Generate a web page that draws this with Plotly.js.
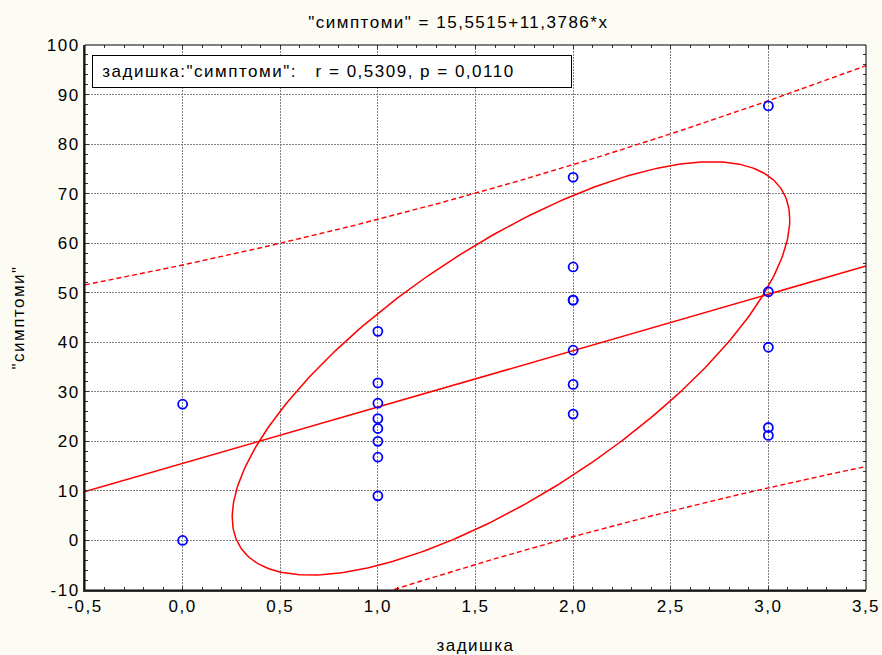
<!DOCTYPE html>
<html>
<head>
<meta charset="utf-8">
<script src="https://cdn.plot.ly/plotly-3.0.1.min.js"></script>
<style>
  html, body { margin: 0; padding: 0; background: #fcfcf5; }
  #chart { width: 882px; height: 655px; }
  svg text { letter-spacing: 1.5px; }
</style>
</head>
<body>
<div id="chart"></div>
<script>
// ---- data ----
const dyspnea = [0, 0,
  1, 1, 1, 1, 1, 1, 1, 1,
  2, 2, 2, 2, 2, 2, 2,
  3, 3, 3, 3, 3];
const symptoms = [27.5, 0,
  42.2, 31.8, 27.7, 24.6, 22.6, 20.0, 16.8, 9.0,
  73.3, 55.2, 48.5, 48.5, 38.4, 31.5, 25.5,
  87.7, 50.2, 39.0, 22.8, 21.2];

const intercept = 15.5515;
const slope = 11.3786;
const titleText = '"симптоми" = 15,5515+11,3786*x';
const statText = '\u00a0задишка:"симптоми":\u00a0\u00a0\u00a0r = 0,5309, p = 0,0110';
const xTitle = 'задишка';
const yTitle = '"симптоми"';

const xTickVals = [-0.5, 0, 0.5, 1, 1.5, 2, 2.5, 3, 3.5];
const xTickText = ['-0,5', '0,0', '0,5', '1,0', '1,5', '2,0', '2,5', '3,0', '3,5'];
const yTickVals = [-10, 0, 10, 20, 30, 40, 50, 60, 70, 80, 90, 100];
const yTickText = ['-10', '0', '10', '20', '30', '40', '50', '60', '70', '80', '90', '100'];

// statistical constants
const T_CRIT = 2.086;      // t(0.975, df = 20)
const ELL_KX = 1.51;       // ellipse extent (in SDs) along x
const ELL_KY = 2.06;       // ellipse extent (in SDs) along y
const ELL_R = 0.72;        // ellipse shape correlation

// ---- derived statistics ----
const n = dyspnea.length;
const mean = a => a.reduce((s, v) => s + v, 0) / a.length;
const mx = mean(dyspnea), my = mean(symptoms);
let sxx = 0, syy = 0;
for (let i = 0; i < n; i++) {
  sxx += (dyspnea[i] - mx) ** 2;
  syy += (symptoms[i] - my) ** 2;
}
const sdx = Math.sqrt(sxx / (n - 1)), sdy = Math.sqrt(syy / (n - 1));
let ssres = 0;
for (let i = 0; i < n; i++) {
  const r = symptoms[i] - (intercept + slope * dyspnea[i]);
  ssres += r * r;
}
const sres = Math.sqrt(ssres / (n - 2));

const xLo = xTickVals[0], xHi = xTickVals[xTickVals.length - 1];
const gx = [], fitY = [], upY = [], loY = [];
for (let k = 0; k <= 200; k++) {
  const x = xLo + (xHi - xLo) * k / 200;
  const yh = intercept + slope * x;
  const hw = T_CRIT * sres * Math.sqrt(1 + 1 / n + (x - mx) ** 2 / sxx);
  gx.push(x); fitY.push(yh); upY.push(yh + hw); loY.push(yh - hw);
}
const ex = [], ey = [];
const rc = Math.sqrt(1 - ELL_R * ELL_R);
for (let k = 0; k <= 360; k++) {
  const t = 2 * Math.PI * k / 360;
  ex.push(mx + ELL_KX * sdx * Math.cos(t));
  ey.push(my + ELL_KY * sdy * (ELL_R * Math.cos(t) + rc * Math.sin(t)));
}

const FONT = 'Liberation Sans, Arial, sans-serif';
const FS = 17;
const red = '#ff0000';

const traces = [
  { x: ex, y: ey, mode: 'lines', line: { color: red, width: 1.5 }, hoverinfo: 'skip' },
  { x: gx, y: fitY, mode: 'lines', line: { color: red, width: 1.5 }, hoverinfo: 'skip' },
  { x: gx, y: upY, mode: 'lines', line: { color: red, width: 1.4, dash: '5px,3px' }, hoverinfo: 'skip' },
  { x: gx, y: loY, mode: 'lines', line: { color: red, width: 1.4, dash: '5px,3px' }, hoverinfo: 'skip' },
  { x: dyspnea, y: symptoms, mode: 'markers',
    marker: { symbol: 'circle-open', size: 9, color: '#0000ff', line: { width: 1.8, color: '#0000ff' } } },
  { x: dyspnea, y: symptoms, xaxis: 'x2', yaxis: 'y2', mode: 'markers',
    marker: { opacity: 0 }, hoverinfo: 'skip' }
];

const minorX = { ticks: 'inside', ticklen: 3, dtick: 0.1, tick0: -0.5, tickcolor: '#333', showgrid: false };
const minorY = { ticks: 'inside', ticklen: 3, dtick: 2, tick0: 0, tickcolor: '#333', showgrid: false };

const layout = {
  width: 882, height: 655,
  paper_bgcolor: '#fcfcf5', plot_bgcolor: '#ffffff',
  margin: { l: 85, r: 16, t: 45, b: 65 },
  showlegend: false,
  font: { family: FONT, size: FS, color: '#000' },
  title: { text: titleText, font: { family: FONT, size: FS, color: '#000' },
           xref: 'paper', x: 0.478, xanchor: 'center', yref: 'container', y: 1 - 22 / 655, yanchor: 'middle' },
  xaxis: {
    range: [xLo, xHi], tickvals: xTickVals, ticktext: xTickText,
    showgrid: true, gridcolor: '#808080', griddash: '2px,1px', gridwidth: 1, zeroline: false,
    ticks: 'inside', ticklen: 4, tickcolor: '#333',
    showline: true, linewidth: 2, linecolor: '#333',
    minor: minorX,
    tickfont: { family: FONT, size: FS, color: '#000' },
    title: { text: xTitle, font: { family: FONT, size: FS, color: '#000' }, standoff: 27 },
    automargin: false
  },
  yaxis: {
    range: [-10, 100], tickvals: yTickVals, ticktext: yTickText,
    showgrid: true, gridcolor: '#808080', griddash: '2px,1px', gridwidth: 1, zeroline: false,
    ticks: 'inside', ticklen: 4, tickcolor: '#333',
    showline: true, linewidth: 2, linecolor: '#333',
    minor: minorY,
    tickfont: { family: FONT, size: FS, color: '#000' },
    title: { text: yTitle, font: { family: FONT, size: FS, color: '#000' }, standoff: 18 },
    automargin: false
  },
  xaxis2: {
    overlaying: 'x', side: 'top', range: [xLo, xHi], tickvals: xTickVals,
    showticklabels: false, showgrid: false, zeroline: false,
    ticks: 'inside', ticklen: 4, tickcolor: '#333', minor: minorX, automargin: false
  },
  yaxis2: {
    overlaying: 'y', side: 'right', range: [-10, 100], tickvals: yTickVals,
    showticklabels: false, showgrid: false, zeroline: false,
    ticks: 'inside', ticklen: 4, tickcolor: '#333', minor: minorY, automargin: false
  },
  shapes: [
    { type: 'rect', xref: 'paper', yref: 'paper', x0: 0, x1: 1, y0: 0, y1: 1,
      line: { color: '#000', width: 1 }, layer: 'above' }
  ],
  annotations: [
    { text: statText, xref: 'paper', yref: 'paper', x: 0.0096, y: 0.982,
      xanchor: 'left', yanchor: 'top', align: 'left', showarrow: false,
      width: 472, height: 25, borderpad: 3,
      bordercolor: '#000', borderwidth: 1, bgcolor: '#ffffff',
      font: { family: FONT, size: FS, color: '#000' } }
  ]
};

Plotly.newPlot('chart', traces, layout, { staticPlot: true, displayModeBar: false });
</script>
</body>
</html>
